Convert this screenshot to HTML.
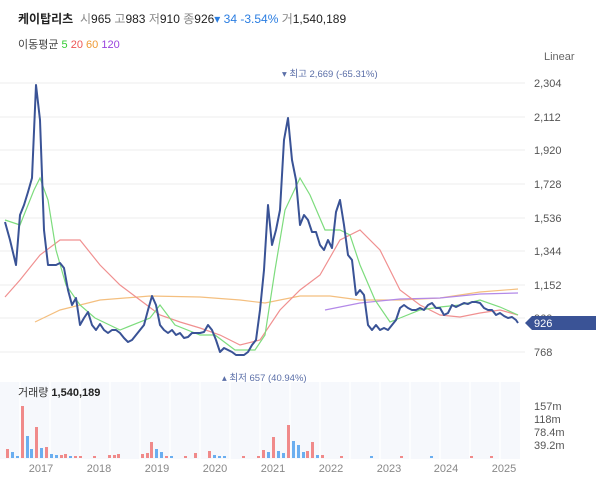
<!DOCTYPE html>
<html><head><meta charset="utf-8"><style>
body{margin:0;background:#fff;font-family:"Liberation Sans","Noto Sans CJK KR",sans-serif;}
.w{position:relative;width:600px;height:489px;overflow:hidden;}
</style></head><body><div class="w">
<svg width="600" height="489" style="position:absolute;left:0;top:0" font-family="Liberation Sans, Noto Sans CJK KR, sans-serif">
<text x="18" y="23" font-size="12" font-weight="bold" fill="#222">케이탑리츠</text>
<text x="80" y="23" font-size="12" fill="#888">시<tspan fill="#222">965</tspan> 고<tspan fill="#222">983</tspan> 저<tspan fill="#222">910</tspan> 종<tspan fill="#222">926</tspan><tspan fill="#2a7de1">▾ 34 -3.54%</tspan> 거<tspan fill="#222">1,540,189</tspan></text>
<text x="18" y="48" font-size="11" fill="#444">이동평균 <tspan fill="#3c3">5</tspan> <tspan fill="#e55">20</tspan> <tspan fill="#e93">60</tspan> <tspan fill="#94d">120</tspan></text>
<text x="544" y="60" font-size="11" fill="#666">Linear</text>
<g stroke="#eee" stroke-width="1">
<line x1="0" y1="83" x2="525" y2="83"/><line x1="0" y1="117" x2="525" y2="117"/><line x1="0" y1="150" x2="525" y2="150"/><line x1="0" y1="184" x2="525" y2="184"/><line x1="0" y1="218" x2="525" y2="218"/><line x1="0" y1="251" x2="525" y2="251"/><line x1="0" y1="285" x2="525" y2="285"/><line x1="0" y1="318" x2="525" y2="318"/><line x1="0" y1="352" x2="525" y2="352"/>
</g>
<g font-size="11" fill="#555">
<text x="534" y="87">2,304</text><text x="534" y="121">2,112</text><text x="534" y="154">1,920</text><text x="534" y="188">1,728</text><text x="534" y="222">1,536</text><text x="534" y="255">1,344</text><text x="534" y="289">1,152</text><text x="534" y="322">960</text><text x="534" y="356">768</text>
</g>
<rect x="0" y="382" width="520" height="77" fill="#f6f8fc"/>
<g stroke="#fff" stroke-width="1.5">
<line x1="20" y1="382" x2="20" y2="459"/><line x1="50" y1="382" x2="50" y2="459"/><line x1="80" y1="382" x2="80" y2="459"/><line x1="110" y1="382" x2="110" y2="459"/><line x1="140" y1="382" x2="140" y2="459"/><line x1="170" y1="382" x2="170" y2="459"/><line x1="200" y1="382" x2="200" y2="459"/><line x1="230" y1="382" x2="230" y2="459"/><line x1="260" y1="382" x2="260" y2="459"/><line x1="290" y1="382" x2="290" y2="459"/><line x1="320" y1="382" x2="320" y2="459"/><line x1="350" y1="382" x2="350" y2="459"/><line x1="380" y1="382" x2="380" y2="459"/><line x1="410" y1="382" x2="410" y2="459"/><line x1="440" y1="382" x2="440" y2="459"/><line x1="470" y1="382" x2="470" y2="459"/><line x1="500" y1="382" x2="500" y2="459"/>
</g>
<g>
<rect x="6" y="449" width="3" height="9" fill="#f08a8a"/><rect x="11" y="452" width="3" height="6" fill="#6aaef0"/><rect x="16" y="456" width="3" height="2" fill="#6aaef0"/><rect x="21" y="406" width="3" height="52" fill="#f08a8a"/><rect x="26" y="436" width="3" height="22" fill="#6aaef0"/><rect x="30" y="449" width="3" height="9" fill="#6aaef0"/><rect x="35" y="427" width="3" height="31" fill="#f08a8a"/><rect x="40" y="448" width="3" height="10" fill="#6aaef0"/><rect x="45" y="447" width="3" height="11" fill="#f08a8a"/><rect x="50" y="454" width="3" height="4" fill="#6aaef0"/><rect x="55" y="455" width="3" height="3" fill="#6aaef0"/><rect x="60" y="455" width="3" height="3" fill="#f08a8a"/><rect x="64" y="454" width="3" height="4" fill="#f08a8a"/><rect x="69" y="456" width="3" height="2" fill="#6aaef0"/><rect x="74" y="456" width="3" height="2" fill="#f08a8a"/><rect x="79" y="456" width="3" height="2" fill="#f08a8a"/><rect x="93" y="456" width="3" height="2" fill="#f08a8a"/><rect x="108" y="455" width="3" height="3" fill="#f08a8a"/><rect x="113" y="455" width="3" height="3" fill="#f08a8a"/><rect x="117" y="454" width="3" height="4" fill="#f08a8a"/><rect x="141" y="454" width="3" height="4" fill="#f08a8a"/><rect x="146" y="453" width="3" height="5" fill="#f08a8a"/><rect x="150" y="442" width="3" height="16" fill="#f08a8a"/><rect x="155" y="449" width="3" height="9" fill="#6aaef0"/><rect x="160" y="452" width="3" height="6" fill="#6aaef0"/><rect x="165" y="456" width="3" height="2" fill="#f08a8a"/><rect x="170" y="456" width="3" height="2" fill="#6aaef0"/><rect x="184" y="456" width="3" height="2" fill="#f08a8a"/><rect x="194" y="453" width="3" height="5" fill="#f08a8a"/><rect x="208" y="451" width="3" height="7" fill="#f08a8a"/><rect x="213" y="455" width="3" height="3" fill="#6aaef0"/><rect x="218" y="456" width="3" height="2" fill="#6aaef0"/><rect x="223" y="456" width="3" height="2" fill="#6aaef0"/><rect x="242" y="456" width="3" height="2" fill="#f08a8a"/><rect x="257" y="456" width="3" height="2" fill="#f08a8a"/><rect x="262" y="450" width="3" height="8" fill="#f08a8a"/><rect x="267" y="452" width="3" height="6" fill="#6aaef0"/><rect x="272" y="437" width="3" height="21" fill="#f08a8a"/><rect x="277" y="451" width="3" height="7" fill="#6aaef0"/><rect x="282" y="453" width="3" height="5" fill="#6aaef0"/><rect x="287" y="425" width="3" height="33" fill="#f08a8a"/><rect x="292" y="441" width="3" height="17" fill="#6aaef0"/><rect x="297" y="445" width="3" height="13" fill="#6aaef0"/><rect x="302" y="452" width="3" height="6" fill="#6aaef0"/><rect x="306" y="451" width="3" height="7" fill="#f08a8a"/><rect x="311" y="442" width="3" height="16" fill="#f08a8a"/><rect x="316" y="455" width="3" height="3" fill="#6aaef0"/><rect x="321" y="455" width="3" height="3" fill="#f08a8a"/><rect x="340" y="456" width="3" height="2" fill="#f08a8a"/><rect x="370" y="456" width="3" height="2" fill="#6aaef0"/><rect x="400" y="456" width="3" height="2" fill="#f08a8a"/><rect x="430" y="456" width="3" height="2" fill="#6aaef0"/><rect x="470" y="456" width="3" height="2" fill="#f08a8a"/><rect x="490" y="456" width="3" height="2" fill="#f08a8a"/>
</g>
<text x="18" y="396" font-size="11" fill="#333">거래량 <tspan font-weight="bold" fill="#222">1,540,189</tspan></text>
<g font-size="11" fill="#555">
<text x="534" y="410">157m</text><text x="534" y="423">118m</text><text x="534" y="436">78.4m</text><text x="534" y="449">39.2m</text>
</g>
<g font-size="11" fill="#888" text-anchor="middle">
<text x="41" y="472">2017</text><text x="99" y="472">2018</text><text x="157" y="472">2019</text><text x="215" y="472">2020</text><text x="273" y="472">2021</text><text x="331" y="472">2022</text><text x="389" y="472">2023</text><text x="446" y="472">2024</text><text x="504" y="472">2025</text>
</g>
<text x="282" y="77" font-size="9.5" fill="#5b6fa8">▾ 최고 2,669 (-65.31%)</text>
<text x="222" y="381" font-size="9.5" fill="#5b6fa8">▴ 최저 657 (40.94%)</text>
<polyline fill="none" stroke="#f4bf7f" stroke-width="1.2" points="35,322 60,310 100,300 150,296 200,297 240,300 265,303 300,296 330,296 360,300 400,300 440,298 480,292 518,289"/>
<polyline fill="none" stroke="#b389e8" stroke-width="1.2" points="325,310 360,303 400,299 440,298 480,294 518,293"/>
<polyline fill="none" stroke="#f09090" stroke-width="1.2" points="5,297 20,280 40,255 60,240 80,240 100,265 120,285 140,300 160,315 180,322 200,328 220,335 240,345 260,340 280,310 300,290 320,275 340,240 360,230 380,250 400,290 420,305 440,315 460,317 480,313 500,310 518,315"/>
<polyline fill="none" stroke="#7ddc7d" stroke-width="1.2" points="5,220 20,225 34,190 40,178 48,200 56,250 66,285 80,305 95,318 120,330 150,318 160,305 175,325 200,335 215,335 235,350 255,350 265,335 275,270 285,210 300,178 310,195 325,230 340,230 350,235 360,265 375,300 390,322 400,318 420,310 440,307 460,305 480,300 500,307 518,315"/>
<polyline fill="none" stroke="#3a5396" stroke-width="2" stroke-linejoin="round" points="5,222 10,240 16,265 20,215 24,205 28,192 32,178 36,85 40,120 44,230 48,265 56,265 60,263 64,268 68,290 72,305 76,298 80,325 84,318 88,312 92,325 96,330 100,324 104,330 108,333 112,330 116,330 120,333 124,338 128,342 132,340 136,335 140,330 144,325 148,310 152,296 156,305 160,325 164,330 168,333 172,330 176,335 180,333 184,338 188,337 192,333 196,333 200,333 204,332 208,325 212,330 216,340 220,352 224,348 228,350 232,352 236,355 240,355 244,355 248,352 252,345 256,340 260,310 264,270 268,205 272,245 276,230 280,210 284,140 288,118 292,160 296,180 300,225 304,215 308,220 312,232 316,232 320,245 324,250 328,240 332,248 336,212 340,200 344,225 348,255 352,260 356,295 360,290 364,295 368,325 372,330 376,325 380,330 384,328 388,330 392,325 396,320 400,308 404,305 408,308 412,310 416,310 420,308 424,310 428,305 432,303 436,308 440,308 444,315 448,313 452,305 456,307 460,305 464,303 468,304 472,302 476,302 480,303 484,308 488,310 492,310 496,315 500,313 504,316 508,318 512,317 516,320 518,323"/>
<path d="M525,323 L532,316 L596,316 L596,330 L532,330 Z" fill="#3a5396"/>
<text x="534" y="327" font-size="11" fill="#fff">926</text>
</svg>
</div></body></html>
